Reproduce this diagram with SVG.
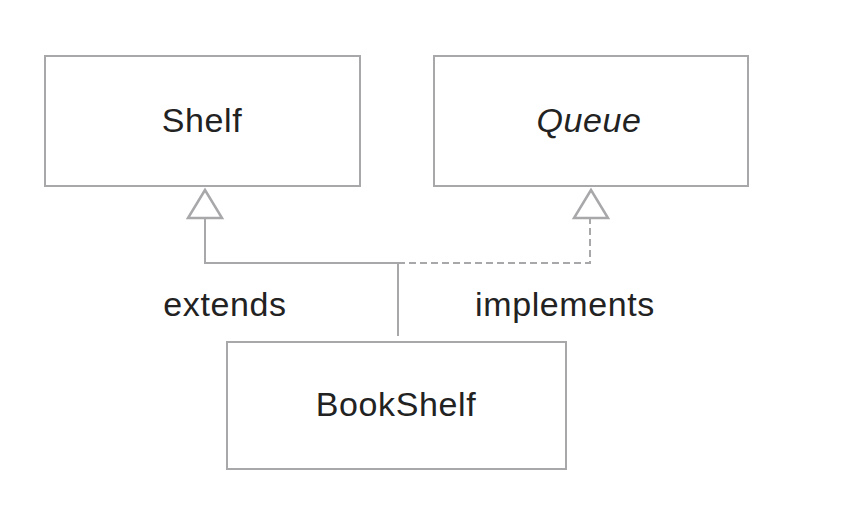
<svg xmlns="http://www.w3.org/2000/svg" width="845" height="520" viewBox="0 0 845 520">
<style>
.box{fill:#fff;stroke:#a8a8ab;stroke-width:2}
.lbl{font-family:"Liberation Sans",Arial,sans-serif;font-size:34px;fill:#222;text-anchor:middle;letter-spacing:0.6px}
.ln{fill:none;stroke:#a8a8ab;stroke-width:2}
.dash{stroke-dasharray:7,4}
.tri{fill:#fff;stroke:#a8a8ab;stroke-width:2.5}
</style>
<rect width="845" height="520" fill="#fff"/>
<g id="connectors">
<polyline class="ln" points="398,336 398,263 205,263 205,218"/>
<polyline class="ln dash" points="398,263 590,263 590,218"/>
<polygon class="tri" points="205,190 188,218 222,218"/>
<polygon class="tri" points="591,190 574,218 608,218"/>
<text class="lbl" x="225" y="316">extends</text>
<text class="lbl" x="565" y="316">implements</text>
</g>
<g id="shelf">
<rect class="box" x="45" y="56" width="315" height="130"/>
<text class="lbl" x="202" y="132">Shelf</text>
</g>
<g id="queue">
<rect class="box" x="434" y="56" width="314" height="130"/>
<text class="lbl" x="589" y="132" font-style="italic">Queue</text>
</g>
<g id="bookshelf">
<rect class="box" x="227" y="342" width="339" height="127"/>
<text class="lbl" x="396" y="416">BookShelf</text>
</g>
</svg>
